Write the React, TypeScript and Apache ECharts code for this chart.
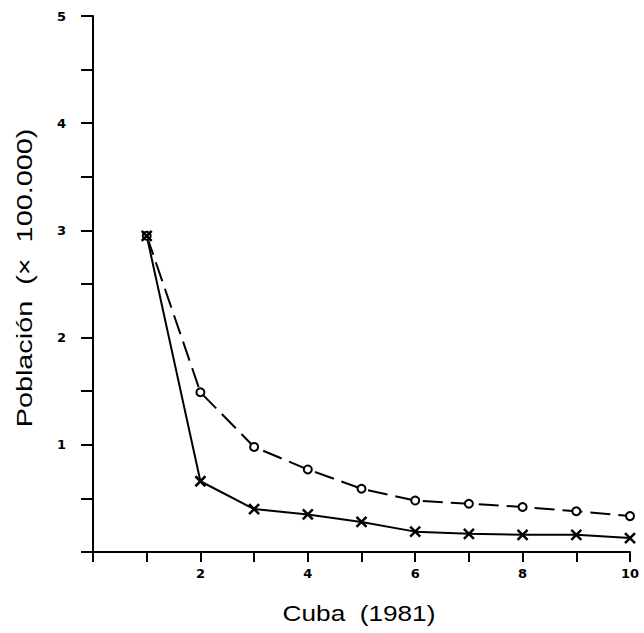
import React, { useEffect, useRef } from "react";
import * as echarts from "echarts";

const xValues = [1, 2, 3, 4, 5, 6, 7, 8, 9, 10];
const circleSeries = [2.95, 1.49, 0.98, 0.77, 0.59, 0.48, 0.45, 0.42, 0.38, 0.335];
const crossSeries = [2.95, 0.66, 0.4, 0.35, 0.28, 0.19, 0.17, 0.16, 0.16, 0.13];
const xTickLabels = ["2", "4", "6", "8", "10"];
const yTickLabels = ["1", "2", "3", "4", "5"];
const xAxisTitle = "Cuba  (1981)";
const yAxisTitle = "Población  (×  100.000)";

const crossPath = "path://M0,0L10,10M10,0L0,10";

export default function App() {
  const ref = useRef<HTMLDivElement>(null);
  useEffect(() => {
    if (!ref.current) return;
    const chart = echarts.init(ref.current, undefined, { renderer: "svg" });
    const labelFont = { color: "#000", fontFamily: "DejaVu Sans", fontWeight: "bold" as const, fontSize: 13 };
    const titleFont = { fontFamily: "Liberation Sans", fontSize: 22, fill: "#000", align: "center" as const, verticalAlign: "middle" as const };
    chart.setOption({
      animation: false,
      backgroundColor: "#fff",
      grid: { left: 93, right: 14, top: 16, bottom: 81, outerBoundsMode: "none", containLabel: false },
      graphic: [
        { type: "text", x: 359, y: 613, scaleX: 1.19, style: { ...titleFont, text: xAxisTitle } },
        { type: "text", x: 24, y: 278, rotation: Math.PI / 2, scaleX: 1.31, style: { ...titleFont, text: yAxisTitle } },
      ],
      xAxis: {
        type: "value",
        min: 0,
        max: 10,
        interval: 1,
        axisLine: { lineStyle: { color: "#000", width: 2 } },
        axisTick: { length: 10, lineStyle: { color: "#000", width: 2 } },
        axisLabel: {
          ...labelFont,
          margin: 15,
          formatter: (v: number) => (xTickLabels.includes(String(v)) ? String(v) : ""),
        },
        splitLine: { show: false },
      },
      yAxis: {
        type: "value",
        min: 0,
        max: 5,
        interval: 0.5,
        axisLine: { show: true, lineStyle: { color: "#000", width: 2 } },
        axisTick: { show: true, length: 12, lineStyle: { color: "#000", width: 2 } },
        axisLabel: {
          ...labelFont,
          margin: 27,
          formatter: (v: number) => (yTickLabels.includes(String(v)) ? String(v) : ""),
        },
        splitLine: { show: false },
      },
      series: [
        {
          type: "line",
          data: xValues.map((x, i) => [x, circleSeries[i]]),
          symbol: "circle",
          symbolSize: 8,
          lineStyle: { color: "#000", width: 2, type: [20, 8] },
          itemStyle: { color: "#fff", borderColor: "#000", borderWidth: 2 },
        },
        {
          type: "line",
          data: xValues.map((x, i) => [x, crossSeries[i]]),
          symbol: crossPath,
          symbolSize: 10,
          lineStyle: { color: "#000", width: 2 },
          itemStyle: { color: "none", borderColor: "#000", borderWidth: 2.5 },
        },
      ],
    });
    return () => chart.dispose();
  }, []);
  return <div ref={ref} style={{ width: 644, height: 633, position: "absolute", left: 0, top: 0 }} />;
}
